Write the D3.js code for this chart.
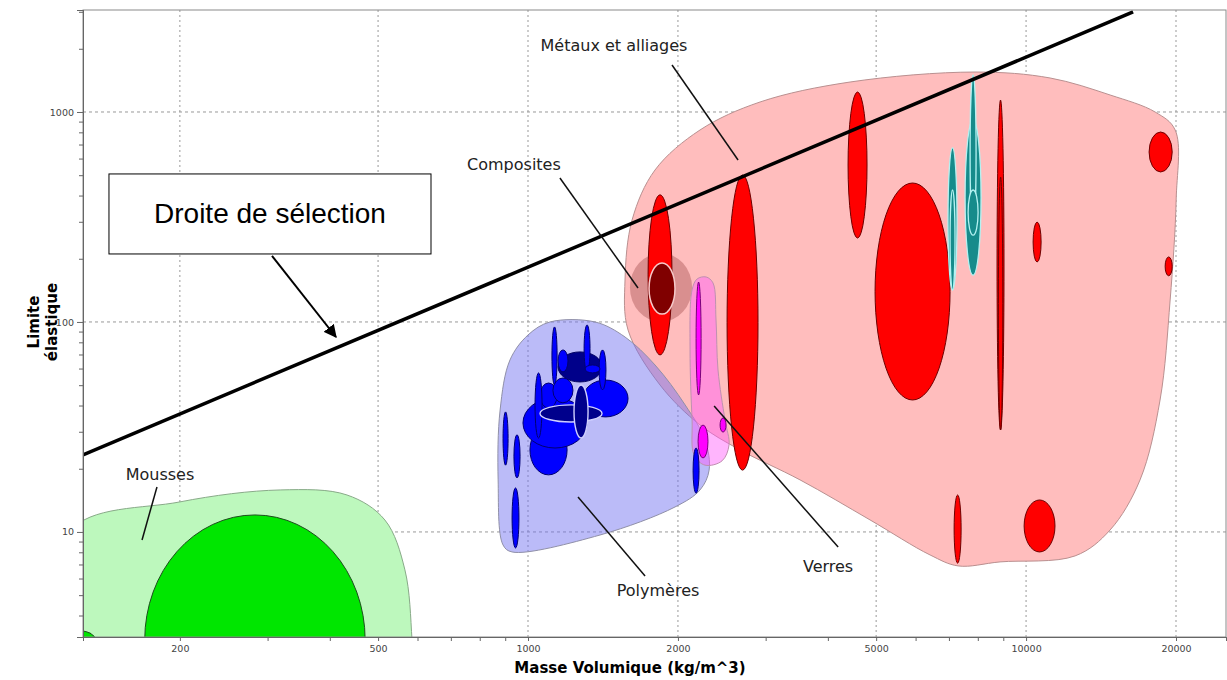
<!DOCTYPE html>
<html>
<head>
<meta charset="utf-8">
<script src="https://cdn.jsdelivr.net/npm/d3@7"></script>
<style>
  body { margin: 0; background: #fff; }
  svg { display: block; }
</style>
</head>
<body>
<svg id="chart"></svg>
<script>
// ranges are [rhoMin, rhoMax, sigmaMin, sigmaMax]
const metals = [
  [1742, 1946, 69.7, 403],
  [2510, 2896, 19.7, 501],
  [4391, 4794, 251, 1245],
  [4975, 7037, 42.5, 459],
  [8744, 9030, 30.6, 1140],
  [8800, 8980, 30.6, 490],
  [10330, 10720, 193, 299],
  [17660, 19650, 518, 803],
  [19020, 19650, 166, 204],
  [7170, 7406, 7.1, 15.0],
  [9910, 11430, 8.03, 14.2]
];
const tealAlloys = [
  [6970, 7267, 142, 674],
  [7037, 7200, 142, 425],
  [7543, 8121, 167, 916],
  [7720, 7936, 274, 1500],
  [7649, 8010, 259, 425]
];
const polymersLarge = [
  [1009, 1198, 18.7, 32.3],
  [977, 1314, 25.1, 43.5],
  [1290, 1588, 35.3, 52.9]
];
const polymersDark = [
  [1149, 1408, 51.8, 72.0]
];
const polymers = [
  [891, 912, 20.8, 37.3],
  [937, 964, 18.1, 29.0],
  [929, 959, 8.39, 16.2],
  [2145, 2205, 15.3, 25.1],
  [1117, 1144, 50.1, 94.7],
  [1296, 1332, 57.8, 96.8],
  [1389, 1434, 47.5, 73.6],
  [1149, 1203, 57.8, 73.6],
  [1302, 1395, 57.2, 62.4],
  [1057, 1144, 38.9, 51.2],
  [1122, 1231, 41.2, 54.1],
  [1033, 1067, 28.0, 57.2]
];
const polymersOutlined = [
  [1057, 1408, 33.4, 40.3],
  [1237, 1320, 28.0, 50.1]
];
const glasses = [
  [2175, 2226, 44.9, 155],
  [2195, 2298, 22.5, 32.3],
  [2430, 2498, 29.9, 34.9]
];
const composites = [
  [1750, 1973, 109, 191]
];
const foams = [
  [170, 471, 0.777, 12.05],
  [116, 137, 2.48, 3.38]
];

// family envelopes, [rho, sigma] points
const metalsEnvelope = [[1566,158.5],[1618,306],[1799,529.5],[2215,821],[2924,1116],[4432,1389],[7899,1550],
  [11173,1452],[14747,1205],[18157,1000],[19921,821],[20013,381],[19465,127.3],[18578,42.5],[16936,17.7],
  [14747,10.22],[12543,7.69],[8867,7.2],[7303,6.89],[6416,7.77],[4861,11.41],[3517,17.7],[2665,24.58],
  [2215,32.3],[1841,50.1],[1588,91.6]];
const polymersEnvelope = [[920,65.9],[1000,86.7],[1107,100],[1363,100],[1566,84.8],[1799,62.4],[2067,40.3],
  [2267,27.4],[2310,19.7],[2215,15.85],[1973,13.15],[1395,9.67],[929,8.03],[891,8.67],[871,17.7],[879,38.1]];
const glassesEnvelope = [[2135,142.1],[2185,160.2],[2278,163.8],[2352,153.4],[2385,102.2],[2407,59.1],
  [2486,34.1],[2533,25.96],[2452,21.8],[2267,20.8],[2155,23.26],[2135,34.1],[2115,73.6]];
const foamsEnvelope = [[120,10],[200,13.9],[318,15.85],[433,15.0],[516,11.4],[566,6.6],[585,3.06],
  [590,1.6],[120,1.6]];
const compositesEnvelope = [[1602, 2135, 100, 213]];

const selectionLine = [[127.8, 23.3], [16400, 2995]];

const xMajor = [200, 500, 1000, 2000, 5000, 10000, 20000];
const yMajor = [10, 100, 1000];

const labels = [
  {text: "Métaux et alliages", at: [1488, 1952], from: [1946, 1674], to: [2641, 590.8]},
  {text: "Composites", at: [937, 529.5], from: [1159, 485], to: [1663, 145.2]},
  {text: "Mousses", at: [182.4, 17.7], from: [179.9, 16.38], to: [167.9, 9.16]},
  {text: "Polymères", at: [1824, 4.96], from: [1718, 6.17], to: [1260, 14.68]},
  {text: "Verres", at: [4004, 6.45], from: [4194, 8.48], to: [2364, 39.8]}
];
const selectionBox = {text: "Droite de sélection", x0: 144.1, x1: 638.6, y0: 506.9, y1: 210.8,
  from: [306.2, 206.2], to: [411.5, 84.8]};

const width = 1227, height = 680;
const margin = {top: 10, right: 1, bottom: 43, left: 83};

const svg = d3.select('#chart').attr('width', width).attr('height', height);

const x = d3.scaleLog().domain([127.8, 25200]).range([margin.left, width - margin.right]);
const y = d3.scaleLog().domain([3.16, 3060]).range([height - margin.bottom, margin.top]);

svg.append('defs').append('clipPath').attr('id', 'plot-clip')
  .append('rect')
  .attr('x', margin.left).attr('y', margin.top)
  .attr('width', width - margin.left - margin.right)
  .attr('height', height - margin.top - margin.bottom);

svg.select('defs').append('marker')
  .attr('id', 'arrow')
  .attr('viewBox', '0 0 10 10')
  .attr('refX', 9).attr('refY', 5)
  .attr('markerWidth', 13).attr('markerHeight', 13)
  .attr('markerUnits', 'userSpaceOnUse')
  .attr('orient', 'auto')
  .append('path').attr('d', 'M0,0 L10,5 L0,10 z').attr('fill', '#000');

// grid
const grid = svg.append('g');
grid.selectAll('.gx').data(xMajor).enter().append('line')
  .attr('x1', d => x(d)).attr('x2', d => x(d))
  .attr('y1', margin.top).attr('y2', height - margin.bottom)
  .attr('stroke', '#999').attr('stroke-dasharray', '2,3');
grid.selectAll('.gy').data(yMajor).enter().append('line')
  .attr('x1', margin.left).attr('x2', width - margin.right)
  .attr('y1', d => y(d)).attr('y2', d => y(d))
  .attr('stroke', '#999').attr('stroke-dasharray', '3,3');

const plot = svg.append('g').attr('clip-path', 'url(#plot-clip)');

const blob = d3.line()
  .x(d => x(d[0])).y(d => y(d[1]))
  .curve(d3.curveCatmullRomClosed.alpha(0.5));

function envelope(points, fill, stroke) {
  plot.append('path')
    .attr('d', blob(points))
    .attr('fill', fill)
    .attr('stroke', stroke)
    .attr('stroke-width', 1);
}

function bubbles(data, fill, stroke, sw) {
  plot.append('g').selectAll('ellipse')
    .data(data)
    .enter().append('ellipse')
    .attr('cx', d => (x(d[0]) + x(d[1])) / 2)
    .attr('cy', d => (y(d[2]) + y(d[3])) / 2)
    .attr('rx', d => Math.abs(x(d[1]) - x(d[0])) / 2)
    .attr('ry', d => Math.abs(y(d[3]) - y(d[2])) / 2)
    .attr('fill', fill)
    .attr('stroke', stroke)
    .attr('stroke-width', sw || 1);
}

envelope(metalsEnvelope, '#ffbdbd', '#b99090');
envelope(polymersEnvelope, 'rgba(110,110,240,0.47)', '#9090a8');
envelope(foamsEnvelope, '#bdf8bd', '#88aa88');
bubbles(compositesEnvelope, 'rgba(150,60,60,0.36)', 'none');
envelope(glassesEnvelope, 'rgba(255,90,250,0.45)', '#c090b0');

bubbles(foams, '#00e600', '#1d4d1d');
bubbles(metals, '#ff0000', '#6e0000');
bubbles(tealAlloys, '#168b8b', '#b4f2f2', 1.3);
bubbles(composites, '#800000', '#f6caca', 1.5);
bubbles(glasses, '#ff00ff', '#7a007a');
bubbles(polymersLarge, '#0000ff', '#000070');
bubbles(polymersDark, '#00008a', '#000060');
bubbles(polymers, '#0000ff', '#000070');
bubbles(polymersOutlined, '#00008c', '#d0d0ff', 1.4);

// selection line
plot.append('path')
  .attr('d', d3.line().x(d => x(d[0])).y(d => y(d[1]))(selectionLine))
  .attr('stroke', '#000').attr('stroke-width', 3.5).attr('fill', 'none');

// frame
svg.append('rect')
  .attr('x', margin.left).attr('y', margin.top)
  .attr('width', width - margin.left - margin.right)
  .attr('height', height - margin.top - margin.bottom)
  .attr('fill', 'none').attr('stroke', '#8a8a8a');

// axes
const xMinor = [], yMinor = [];
[100, 1000, 10000].forEach(b => d3.range(1, 10).forEach(k => {
  const v = b * k;
  if (v > 127.8 && v < 25200 && !xMajor.includes(v)) xMinor.push(v);
}));
[1, 10, 100, 1000].forEach(b => d3.range(1, 10).forEach(k => {
  const v = b * k;
  if (v > 3.16 && v < 3060 && !yMajor.includes(v)) yMinor.push(v);
}));

function styleAxis(g) {
  g.select('.domain').attr('stroke', '#666');
  g.selectAll('.tick line').attr('stroke', '#666');
  g.selectAll('.tick text').attr('fill', '#444')
    .style('font-family', 'DejaVu Sans, sans-serif').style('font-size', '9.5px');
}

svg.append('g')
  .attr('transform', `translate(0,${height - margin.bottom})`)
  .call(d3.axisBottom(x).tickValues(xMinor).tickSize(4).tickFormat(''))
  .call(styleAxis);
svg.append('g')
  .attr('transform', `translate(0,${height - margin.bottom})`)
  .call(d3.axisBottom(x).tickValues(xMajor).tickSize(4).tickPadding(4).tickFormat(d3.format('d')))
  .call(styleAxis);
svg.append('g')
  .attr('transform', `translate(${margin.left},0)`)
  .call(d3.axisLeft(y).tickValues(yMinor).tickSize(4).tickFormat(''))
  .call(styleAxis);
svg.append('g')
  .attr('transform', `translate(${margin.left},0)`)
  .call(d3.axisLeft(y).tickValues(yMajor).tickSize(6).tickPadding(3).tickFormat(d3.format('d')))
  .call(styleAxis);

svg.append('text')
  .attr('x', 630).attr('y', 673)
  .attr('text-anchor', 'middle')
  .style('font-family', 'DejaVu Sans, sans-serif')
  .style('font-weight', 'bold').style('font-size', '15px')
  .text('Masse Volumique (kg/m^3)');

['Limite', 'élastique'].forEach((t, i) => {
  svg.append('text')
    .attr('transform', `translate(${34 + i * 18},322) rotate(-90)`)
    .attr('text-anchor', 'middle')
    .attr('dominant-baseline', 'central')
    .style('font-family', 'DejaVu Sans, sans-serif')
    .style('font-weight', 'bold').style('font-size', '15px')
    .text(t);
});

// annotations
const ann = svg.append('g');
labels.forEach(l => {
  ann.append('line')
    .attr('x1', x(l.from[0])).attr('y1', y(l.from[1]))
    .attr('x2', x(l.to[0])).attr('y2', y(l.to[1]))
    .attr('stroke', '#111').attr('stroke-width', 1.5);
  ann.append('text')
    .attr('x', x(l.at[0])).attr('y', y(l.at[1]))
    .attr('text-anchor', 'middle')
    .style('font-family', 'DejaVu Sans, sans-serif')
    .style('font-size', '16px').attr('fill', '#222')
    .text(l.text);
});

ann.append('rect')
  .attr('x', x(selectionBox.x0)).attr('y', y(selectionBox.y0))
  .attr('width', x(selectionBox.x1) - x(selectionBox.x0))
  .attr('height', y(selectionBox.y1) - y(selectionBox.y0))
  .attr('fill', '#fff').attr('stroke', '#000').attr('stroke-width', 1);
ann.append('text')
  .attr('x', (x(selectionBox.x0) + x(selectionBox.x1)) / 2)
  .attr('y', (y(selectionBox.y0) + y(selectionBox.y1)) / 2)
  .attr('text-anchor', 'middle')
  .attr('dominant-baseline', 'central')
  .style('font-family', 'Liberation Sans, Arial, sans-serif')
  .style('font-size', '28px')
  .text(selectionBox.text);
ann.append('line')
  .attr('x1', x(selectionBox.from[0])).attr('y1', y(selectionBox.from[1]))
  .attr('x2', x(selectionBox.to[0])).attr('y2', y(selectionBox.to[1]))
  .attr('stroke', '#000').attr('stroke-width', 2)
  .attr('marker-end', 'url(#arrow)');
</script>
</body>
</html>
